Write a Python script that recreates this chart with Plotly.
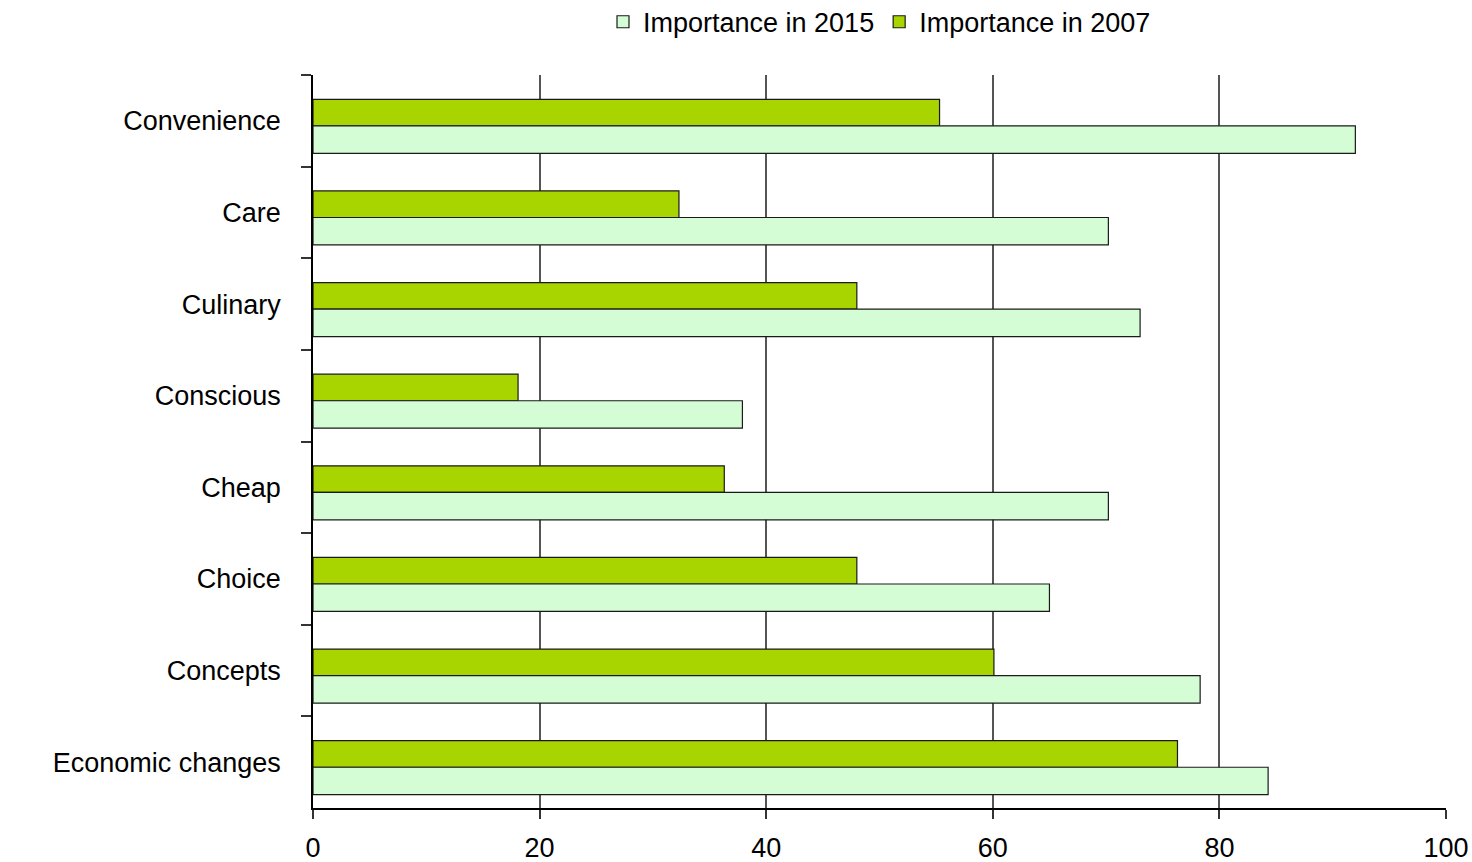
import plotly.graph_objects as go

categories = ["Convenience", "Care", "Culinary", "Conscious", "Cheap", "Choice", "Concepts", "Economic changes"]
importance_2007 = [55.3, 32.3, 48.0, 18.1, 36.3, 48.0, 60.1, 76.3]
importance_2015 = [92.0, 70.2, 73.0, 37.9, 70.2, 65.0, 78.3, 84.3]
x_ticks = [0, 20, 40, 60, 80, 100]

fig = go.Figure()
fig.add_trace(go.Bar(
    y=categories, x=importance_2007, orientation="h", name="Importance in 2007",
    marker=dict(color="#A8D400", line=dict(color="#1a1a1a", width=1.2)),
    offset=-0.235, width=0.29, legendrank=2,
))
fig.add_trace(go.Bar(
    y=categories, x=importance_2015, orientation="h", name="Importance in 2015",
    marker=dict(color="#D5FDD5", line=dict(color="#1a1a1a", width=1.2)),
    offset=0.055, width=0.30, legendrank=1,
))

font_family = "Arial, Liberation Sans, sans-serif"
fs = 27
fig.update_layout(
    width=1472, height=862,
    margin=dict(l=313, r=26, t=75, b=54, autoexpand=False),
    paper_bgcolor="white", plot_bgcolor="white",
    barmode="overlay",
    font=dict(family=font_family, size=fs, color="black"),
    showlegend=True,
    legend=dict(orientation="h", x=0.5, xanchor="center", y=1.072, yanchor="middle",
                font=dict(size=fs), itemwidth=30, traceorder="normal"),
    xaxis=dict(range=[0, 100], tickvals=x_ticks, showgrid=True, gridcolor="#555555", gridwidth=1.5,
               showline=True, linecolor="black", linewidth=1.5, ticks="outside", ticklen=9,
               tickcolor="#333", tickwidth=1.5, zeroline=False, tickfont=dict(size=fs),
               automargin=False, ticklabelstandoff=6),
    yaxis=dict(type="category", categoryorder="array", categoryarray=categories, autorange="reversed",
               tickson="boundaries", ticks="outside", ticklen=10, tickcolor="#333", tickwidth=1.5,
               showline=True, linecolor="black", linewidth=1.5, showgrid=False,
               ticklabelstandoff=25, tickfont=dict(size=fs), automargin=False),
)

fig.write_html("out.html")
